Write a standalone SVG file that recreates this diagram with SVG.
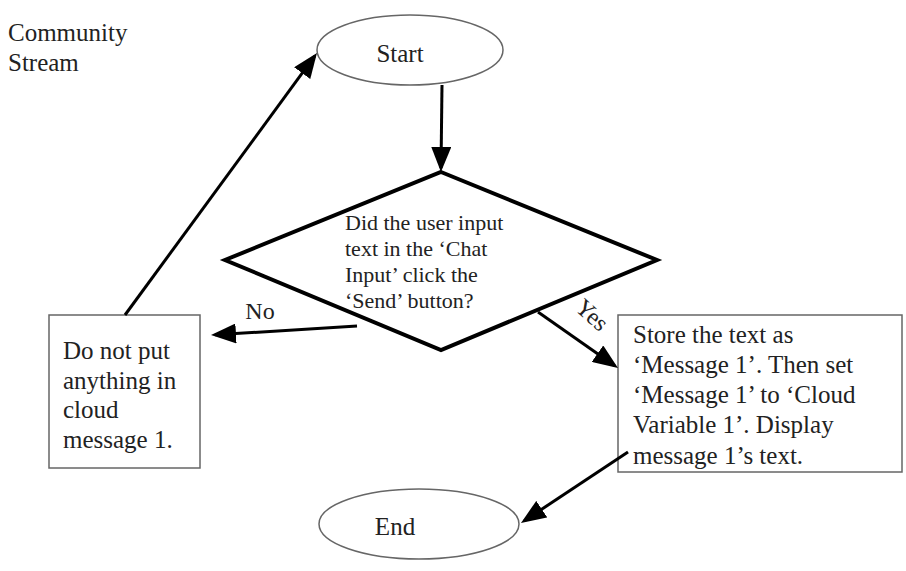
<svg xmlns="http://www.w3.org/2000/svg" width="906" height="571" viewBox="0 0 906 571">
  <style>
    text { font-family: "Liberation Serif", "Times New Roman", serif; fill: #222; }
    .t25 { font-size: 25px; }
    .t24 { font-size: 24px; }
    .t22 { font-size: 22px; }
    .outline { fill: #fff; stroke: #666; stroke-width: 1.5; }
    .decision { fill: #fff; stroke: #000; stroke-width: 4; stroke-linejoin: miter; }
    .conn { fill: none; stroke: #000; stroke-width: 3; marker-end: url(#head); }
  </style>
  <defs>
    <marker id="head" markerUnits="userSpaceOnUse" markerWidth="26" markerHeight="20" refX="21" refY="10" orient="auto">
      <path d="M0,0 L25,10 L0,20 z" fill="#000"/>
    </marker>
  </defs>
  <rect width="906" height="571" fill="#fff"/>

  <text class="t25" x="8" y="41">Community</text>
  <text class="t25" x="8" y="71">Stream</text>

  <g id="start">
    <ellipse class="outline" cx="410" cy="50" rx="93" ry="35"/>
    <text class="t25" x="400" y="62" text-anchor="middle">Start</text>
  </g>

  <g id="decision">
    <polygon class="decision" points="441,172 657,260 441,350 225,260"/>
    <text class="t22" x="345" y="230">Did the user input</text>
    <text class="t22" x="345" y="256">text in the ‘Chat</text>
    <text class="t22" x="345" y="282">Input’ click the</text>
    <text class="t22" x="345" y="308">‘Send’ button?</text>
  </g>

  <g id="no-action">
    <rect class="outline" x="49" y="315" width="151" height="153"/>
    <text class="t25" x="63" y="359">Do not put</text>
    <text class="t25" x="63" y="389">anything in</text>
    <text class="t25" x="63" y="418">cloud</text>
    <text class="t25" x="63" y="448">message 1.</text>
  </g>

  <g id="store">
    <rect class="outline" x="618" y="315" width="284" height="157"/>
    <text class="t25" x="633" y="343">Store the text as</text>
    <text class="t25" x="633" y="373">‘Message 1’. Then set</text>
    <text class="t25" x="633" y="403">‘Message 1’ to ‘Cloud</text>
    <text class="t25" x="633" y="433">Variable 1’. Display</text>
    <text class="t25" x="633" y="464">message 1’s text.</text>
  </g>

  <g id="end">
    <ellipse class="outline" cx="419" cy="524" rx="100" ry="35"/>
    <text class="t25" x="395" y="535" text-anchor="middle">End</text>
  </g>

  <g id="connectors">
    <line class="conn" x1="125" y1="315" x2="314.6" y2="56.2"/>
    <line class="conn" x1="442" y1="85" x2="441" y2="168"/>
    <line class="conn" x1="357" y1="326" x2="215" y2="334.8"/>
    <line class="conn" x1="538" y1="312" x2="614.7" y2="365.7"/>
    <line class="conn" x1="628" y1="452" x2="524.3" y2="520.8"/>
    <text class="t24" x="260" y="319" text-anchor="middle">No</text>
    <text class="t24" x="592" y="323" text-anchor="middle" transform="rotate(42 592 315)">Yes</text>
  </g>
</svg>
